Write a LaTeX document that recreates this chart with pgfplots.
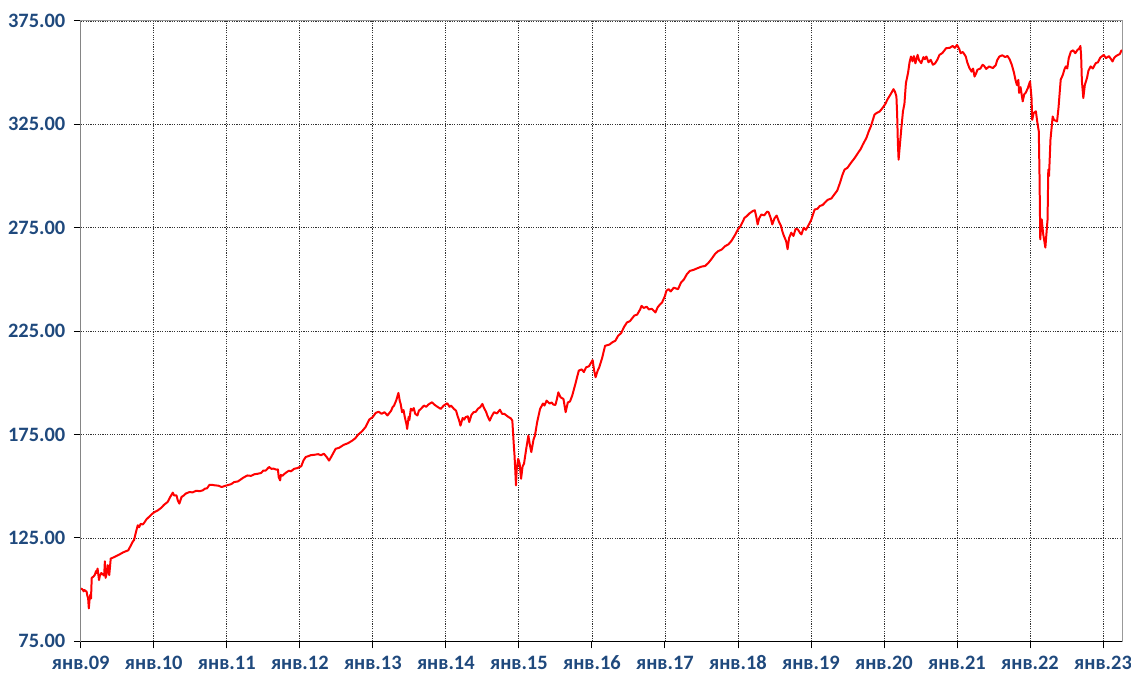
\documentclass[border=0pt]{standalone}
\usepackage{pgfplots}
\pgfplotsset{compat=1.18}
\usepackage{fontspec}
\setmainfont{Carlito}
\definecolor{lblblue}{RGB}{31,73,125}
\definecolor{redline}{RGB}{255,0,0}
\begin{document}
\begin{tikzpicture}
\useasboundingbox (-81pt,-35pt) rectangle (1053pt,643pt);
\begin{axis}[
  scale only axis,
  width=1044pt, height=622pt,
  xmin=2009, xmax=2023.26,
  ymin=75, ymax=375,
  xtick={2009,2010,...,2023},
  xticklabels={янв.09,янв.10,янв.11,янв.12,янв.13,янв.14,янв.15,янв.16,янв.17,янв.18,янв.19,янв.20,янв.21,янв.22,янв.23},
  ytick={75,125,175,225,275,325,375},
  yticklabel={\pgfmathprintnumber[fixed,fixed zerofill,precision=2]{\tick}},
  /pgf/number format/assume math mode=true,
  tick label style={font=\fontsize{20.5}{22}\selectfont\bfseries, text=lblblue},
  xticklabel style={yshift=-4pt},
  yticklabel style={xshift=-5pt},
  xtick pos=bottom, ytick pos=left,
  tick align=outside,
  major tick length=7pt,
  tick style={black, line width=0.9pt},
  grid=major,
  major grid style={black!80, line width=0.8pt, dash pattern=on 1.2pt off 1.2pt},
  axis line style={draw=black!40, line width=1pt},
  clip=true,
]
\addplot[redline, line width=2pt, line join=round] coordinates {
(2009.00,100.5)(2009.02,100.2)(2009.04,99.2)(2009.05,99.8)(2009.08,99.0)(2009.09,97.0)(2009.10,96.0)(2009.11,90.9)(2009.12,95.0)(2009.13,97.5)(2009.14,95.7)(2009.15,105.7)
(2009.17,106.2)(2009.19,107.0)(2009.21,109.0)(2009.22,108.0)(2009.23,110.2)(2009.25,104.6)(2009.26,106.5)(2009.28,108.0)(2009.30,107.5)(2009.32,106.8)(2009.33,113.7)(2009.34,105.7)(2009.36,108.5)(2009.37,111.8)(2009.39,107.0)
(2009.41,115.0)(2009.45,115.6)(2009.50,116.5)(2009.54,117.2)(2009.58,118.0)(2009.62,118.6)(2009.65,119.0)(2009.68,121.0)(2009.71,123.1)(2009.73,124.0)(2009.75,127.0)(2009.78,131.1)(2009.80,130.2)(2009.82,131.8)(2009.85,131.5)(2009.87,132.4)(2009.90,134.0)(2009.93,135.0)
(2009.97,136.4)(2010.01,137.5)(2010.05,138.2)(2010.10,139.5)(2010.14,141.0)(2010.19,142.4)(2010.22,144.5)(2010.26,146.9)(2010.28,145.5)(2010.31,145.6)(2010.33,143.0)(2010.35,141.6)(2010.38,144.8)(2010.41,145.5)(2010.44,146.5)(2010.49,147.2)(2010.53,147.0)(2010.58,147.8)
(2010.63,147.6)(2010.67,148.0)(2010.70,148.8)(2010.73,149.0)(2010.76,150.6)(2010.79,150.7)(2010.84,150.4)(2010.88,150.3)(2010.93,149.6)(2010.97,150.1)(2011.02,150.6)(2011.06,151.0)(2011.10,152.0)(2011.15,152.3)(2011.18,153.0)(2011.22,154.0)(2011.28,155.2)(2011.33,155.0)(2011.38,155.8)
(2011.42,156.0)(2011.47,156.4)(2011.50,157.6)(2011.53,157.5)(2011.56,158.6)(2011.58,159.3)(2011.61,158.4)(2011.64,158.5)(2011.68,158.0)(2011.70,158.1)(2011.71,154.5)(2011.73,152.8)(2011.74,155.5)(2011.76,155.0)(2011.79,156.0)(2011.82,156.8)(2011.85,157.5)(2011.88,157.2)(2011.92,158.4)(2011.97,158.8)
(2012.02,159.7)(2012.05,162.5)(2012.08,164.1)(2012.12,164.6)(2012.15,165.0)(2012.20,165.2)(2012.25,165.5)(2012.29,165.0)(2012.33,165.7)(2012.37,164.0)(2012.40,162.4)(2012.43,164.2)(2012.45,165.5)(2012.49,168.1)(2012.54,168.6)(2012.60,170.0)(2012.66,170.8)
(2012.72,172.1)(2012.76,173.2)(2012.80,175.0)(2012.85,176.5)(2012.90,178.6)(2012.95,182.2)(2013.00,183.5)(2013.04,185.5)(2013.08,186.0)(2013.12,185.0)(2013.16,185.8)(2013.20,184.2)(2013.23,185.6)(2013.25,186.5)(2013.27,188.2)(2013.29,189.0)(2013.32,191.5)(2013.35,195.1)
(2013.37,191.0)(2013.38,190.0)(2013.40,185.8)(2013.42,186.8)(2013.44,183.0)(2013.46,180.0)(2013.47,177.7)(2013.49,183.5)(2013.50,182.0)(2013.52,187.5)(2013.54,186.6)(2013.56,187.8)(2013.58,185.0)(2013.61,184.2)(2013.63,186.5)(2013.66,187.5)(2013.70,189.0)(2013.73,188.4)
(2013.76,189.5)(2013.81,190.6)(2013.84,189.5)(2013.88,188.5)(2013.93,187.4)(2013.97,189.0)(2014.02,190.1)(2014.05,188.4)(2014.07,189.0)(2014.11,187.4)(2014.14,186.5)(2014.16,184.0)(2014.18,182.0)(2014.20,179.3)(2014.23,183.0)(2014.25,182.2)(2014.27,183.4)(2014.30,183.8)
(2014.32,181.0)(2014.35,184.5)(2014.38,185.8)(2014.41,186.0)(2014.44,187.5)(2014.47,188.2)(2014.50,189.8)(2014.52,188.0)(2014.55,186.0)(2014.57,184.0)(2014.60,181.7)(2014.63,184.0)(2014.66,185.8)(2014.70,185.2)(2014.74,187.0)(2014.77,185.0)(2014.80,185.0)(2014.83,184.2)(2014.86,183.4)
(2014.89,182.8)(2014.91,181.7)(2014.93,170.0)(2014.94,164.9)(2014.95,158.0)(2014.96,150.4)(2014.97,158.0)(2014.99,163.3)(2015.01,161.0)(2015.03,153.6)(2015.05,159.5)(2015.07,160.9)(2015.10,168.0)(2015.13,174.5)(2015.15,170.0)(2015.17,166.5)(2015.20,172.5)(2015.22,174.5)(2015.25,181.0)(2015.29,187.4)
(2015.33,190.0)(2015.35,189.0)(2015.38,191.4)(2015.42,190.0)(2015.45,190.5)(2015.47,189.5)(2015.50,189.3)(2015.52,192.0)(2015.54,195.4)(2015.57,193.0)(2015.61,192.2)(2015.63,188.0)(2015.64,185.8)(2015.67,190.5)(2015.70,191.0)(2015.73,193.8)(2015.77,199.0)(2015.82,205.9)(2015.86,206.5)(2015.89,205.2)(2015.92,207.5)(2015.96,208.0)(2016.01,211.0)
(2016.03,206.0)(2016.05,202.7)(2016.08,206.0)(2016.10,207.5)(2016.14,212.0)(2016.18,217.9)(2016.24,218.5)(2016.28,219.6)(2016.32,220.3)(2016.36,222.8)(2016.40,224.0)(2016.44,227.0)(2016.48,229.2)(2016.52,229.8)(2016.58,232.5)(2016.62,233.0)(2016.66,235.5)(2016.68,237.2)(2016.71,236.2)(2016.75,236.8)(2016.78,235.5)(2016.82,235.8)(2016.87,234.0)
(2016.90,236.5)(2016.93,237.8)(2016.96,238.8)(2017.00,242.0)(2017.02,244.5)(2017.05,245.3)(2017.08,244.2)(2017.12,246.0)(2017.18,245.3)(2017.22,248.5)(2017.26,250.0)(2017.30,252.5)(2017.34,254.1)(2017.39,254.6)(2017.45,255.5)(2017.50,256.2)(2017.55,256.5)(2017.60,258.2)(2017.64,260.0)(2017.69,262.5)(2017.73,263.7)(2017.78,264.5)(2017.82,266.0)
(2017.87,267.0)(2017.91,268.6)(2017.96,271.5)(2018.00,274.2)(2018.03,275.5)(2018.06,277.5)(2018.09,279.8)(2018.12,280.6)(2018.16,282.0)(2018.20,283.0)(2018.23,283.5)(2018.25,280.5)(2018.27,276.6)(2018.29,279.5)(2018.32,281.4)(2018.36,281.0)(2018.40,282.8)(2018.42,282.5)(2018.45,279.5)(2018.47,276.6)(2018.50,279.5)(2018.53,280.9)
(2018.56,278.0)(2018.59,275.8)(2018.61,273.0)(2018.63,271.0)(2018.66,268.5)(2018.68,264.6)(2018.70,270.0)(2018.73,272.6)(2018.76,271.0)(2018.79,274.5)(2018.82,274.2)(2018.85,272.5)(2018.87,271.8)(2018.90,275.0)(2018.93,274.0)(2018.96,275.8)(2019.00,278.5)(2019.05,283.8)(2019.09,284.2)(2019.12,285.5)(2019.16,286.0)(2019.19,287.1)
(2019.23,288.5)(2019.28,289.2)(2019.32,291.1)(2019.36,293.0)(2019.40,297.0)(2019.43,300.5)(2019.46,303.1)(2019.50,304.0)(2019.55,306.5)(2019.60,308.8)(2019.65,311.5)(2019.68,313.0)(2019.71,315.2)(2019.76,318.5)(2019.79,321.5)(2019.82,324.0)(2019.87,329.7)(2019.90,330.5)(2019.94,331.2)(2019.98,332.9)(2020.02,335.0)(2020.05,337.2)(2020.09,339.5)(2020.13,342.0)(2020.15,340.8)
(2020.17,338.5)(2020.18,330.0)(2020.19,316.0)(2020.20,307.9)(2020.22,316.0)(2020.24,324.0)(2020.26,331.3)(2020.28,335.0)(2020.30,344.9)(2020.33,350.0)(2020.35,355.0)(2020.37,357.8)(2020.39,355.5)(2020.41,358.0)(2020.43,354.5)(2020.46,358.6)(2020.48,356.0)(2020.51,354.6)(2020.54,357.5)(2020.56,356.5)(2020.58,357.8)(2020.61,355.0)(2020.64,356.2)(2020.67,353.8)(2020.70,354.5)(2020.73,356.2)(2020.76,358.6)
(2020.80,359.5)(2020.85,361.8)(2020.90,362.0)(2020.94,362.9)(2020.97,362.0)(2021.00,363.4)(2021.03,361.5)(2021.05,359.4)(2021.08,360.0)(2021.12,357.8)(2021.14,355.0)(2021.17,352.2)(2021.20,350.5)(2021.22,352.0)(2021.24,348.1)(2021.26,349.5)(2021.28,351.4)(2021.32,352.0)(2021.35,353.8)(2021.37,353.3)(2021.40,351.8)(2021.44,353.0)(2021.49,352.2)
(2021.53,353.6)(2021.55,356.0)(2021.58,357.8)(2021.62,358.4)(2021.66,357.5)(2021.69,358.1)(2021.72,356.5)(2021.75,353.8)(2021.78,350.0)(2021.80,346.6)(2021.82,344.0)(2021.84,346.5)(2021.85,340.2)(2021.87,343.0)(2021.90,336.1)(2021.92,339.5)(2021.94,340.2)(2021.97,342.5)(2022.00,345.8)(2022.02,338.0)(2022.03,327.2)(2022.05,330.5)(2022.08,331.3)(2022.10,326.0)
(2022.12,321.6)(2022.13,300.0)(2022.14,269.4)(2022.15,275.0)(2022.16,279.0)(2022.18,272.0)(2022.21,265.4)(2022.22,270.0)(2022.24,279.0)(2022.25,303.1)(2022.26,300.0)(2022.28,317.6)(2022.31,328.8)(2022.33,327.0)(2022.35,326.8)(2022.37,326.4)(2022.39,333.0)(2022.42,346.6)(2022.45,349.0)(2022.47,351.5)
(2022.49,353.0)(2022.51,352.0)(2022.53,357.0)(2022.56,360.2)(2022.59,360.8)(2022.62,359.4)(2022.65,361.0)(2022.67,361.5)(2022.69,362.9)(2022.70,358.0)(2022.71,346.0)(2022.73,337.7)(2022.75,344.0)(2022.78,347.4)(2022.80,351.0)(2022.83,353.0)(2022.86,352.0)(2022.90,354.6)(2022.93,355.0)(2022.96,357.2)(2023.01,358.6)
(2023.04,357.0)(2023.08,358.0)(2023.11,356.5)(2023.13,355.4)(2023.15,357.0)(2023.17,357.8)(2023.20,358.5)(2023.23,359.0)(2023.25,360.6)(2023.26,360.8)
};
\draw[black, line width=1.3pt] (rel axis cs:0,1) -- (rel axis cs:0,0) -- (rel axis cs:1,0);
\end{axis}
\end{tikzpicture}
\end{document}
